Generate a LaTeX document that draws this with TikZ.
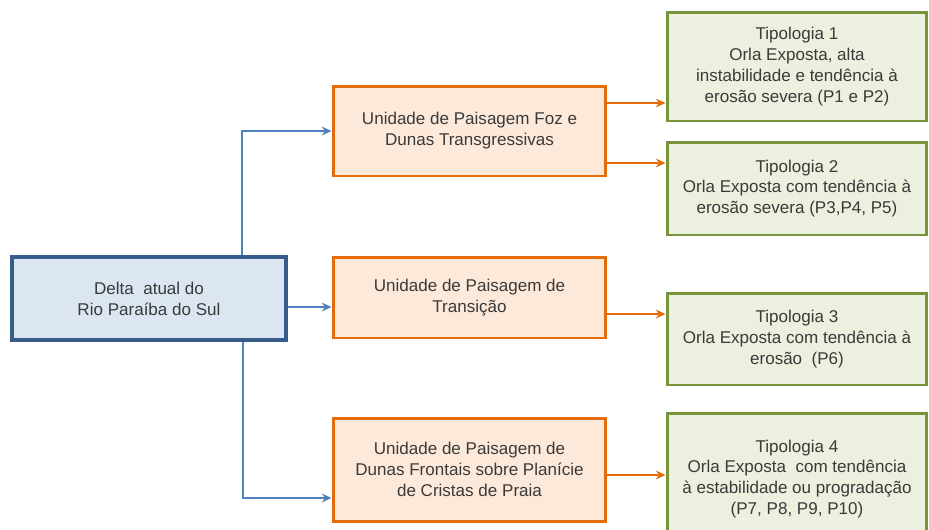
\documentclass[tikz,border=0pt]{standalone}
\usepackage{fontspec}
\setmainfont{Liberation Sans}
\usetikzlibrary{arrows.meta,positioning}

\definecolor{deltaline}{HTML}{385D8A}
\definecolor{deltafill}{HTML}{DCE6F2}
\definecolor{unitline}{HTML}{E46C0A}
\definecolor{unitfill}{HTML}{FDE9D9}
\definecolor{tipoline}{HTML}{77933C}
\definecolor{tipofill}{HTML}{EBF1DE}
\definecolor{linkblue}{HTML}{4F81BD}
\definecolor{txtgray}{HTML}{3A3A3A}

\begin{document}
\begin{tikzpicture}[
    x=0.02cm, y=-0.02cm,
    font=\fontsize{9.7}{11.9}\selectfont,
    every node/.style={text=txtgray},
    deltabox/.style={draw=deltaline, fill=deltafill, line width=2.2pt, minimum width=5.48cm, minimum height=1.66cm, align=center},
    unitbox/.style={draw=unitline, fill=unitfill, line width=1.7pt, minimum width=5.46cm, align=center},
    tipobox/.style={draw=tipoline, fill=tipofill, line width=1.7pt, minimum width=5.2cm, align=center},
    bluelink/.style={draw=linkblue, line width=0.9pt, -{Stealth[length=5.5pt,width=5pt]}},
    orangelink/.style={draw=unitline, line width=0.8pt, -{Stealth[length=5.5pt,width=5pt]}}
]
    \useasboundingbox (0,0) rectangle (929,529);
    \clip (0,0) rectangle (929,529);

    % origem
    \node[deltabox] (delta) at (149,298.5) {Delta\ \ atual do\\Rio Paraíba do Sul};

    % unidades de paisagem
    \node[unitbox, minimum height=1.8cm]  (foz)   at (469.5,131)   {Unidade de Paisagem Foz e\\Dunas Transgressivas};
    \node[unitbox, minimum height=1.62cm] (trans) at (469.5,297.5) {Unidade de Paisagem de\\Transição};
    \node[unitbox, minimum height=2.06cm] (dunas) at (469.5,469.5) {Unidade de Paisagem de\\Dunas Frontais sobre Planície\\de Cristas de Praia};

    % tipologias
    \node[tipobox, minimum height=2.18cm] (tipo1) at (797,66.5)  {Tipologia 1\\Orla Exposta, alta\\instabilidade e tendência à\\erosão severa (P1 e P2)};
    \node[tipobox, minimum height=1.86cm] (tipo2) at (797,188.5) {Tipologia 2\\Orla Exposta com tendência à\\erosão severa (P3,P4, P5)};
    \node[tipobox, minimum height=1.84cm] (tipo3) at (797,339)   {Tipologia 3\\Orla Exposta com tendência à\\erosão\ \ (P6)};
    \node[tipobox, minimum height=2.64cm] (tipo4) at (797,479)   {Tipologia 4\\Orla Exposta\ \ com tendência\\à estabilidade ou progradação\\(P7, P8, P9, P10)};

    \draw[bluelink] (delta.north -| 242,0) |- (foz.west |- 0,131);
    \draw[bluelink] (delta.east |- 0,307) -- (trans.west |- 0,307);
    \draw[bluelink] (delta.south -| 243,0) |- (dunas.west |- 0,498);

    \draw[orangelink] (foz.east |- 0,103) -- (tipo1.west |- 0,103);
    \draw[orangelink] (foz.east |- 0,163) -- (tipo2.west |- 0,163);
    \draw[orangelink] (trans.east |- 0,314) -- (tipo3.west |- 0,314);
    \draw[orangelink] (dunas.east |- 0,475) -- (tipo4.west |- 0,475);

\end{tikzpicture}
\end{document}
